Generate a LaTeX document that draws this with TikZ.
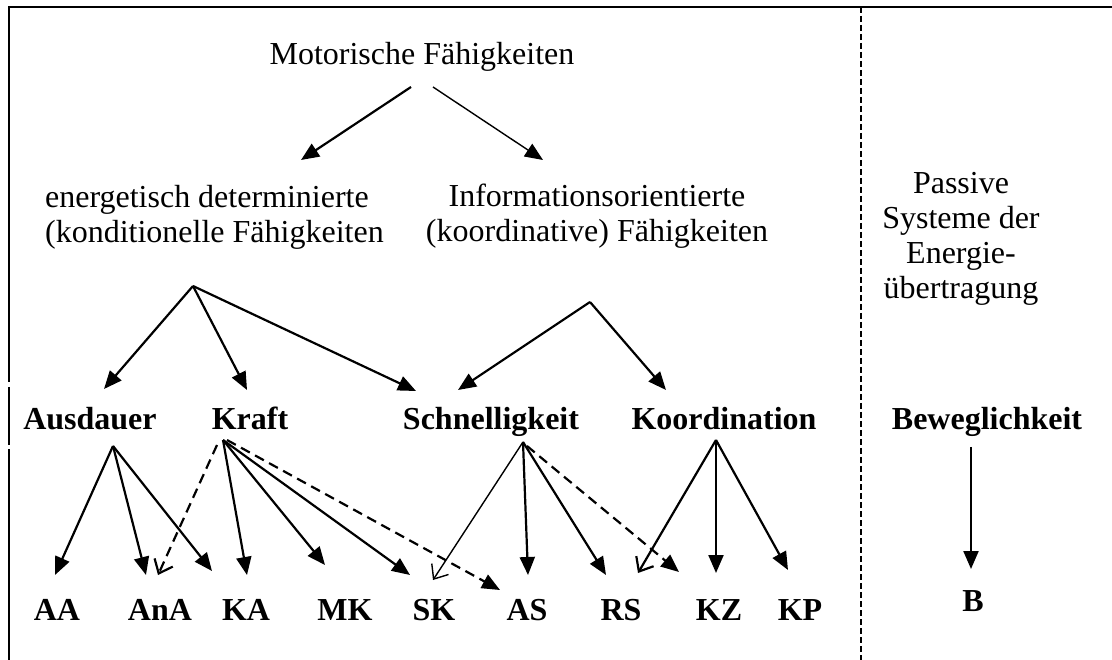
\documentclass[tikz,border=0pt]{standalone}
\usepackage{fontspec}
\setmainfont{Liberation Serif}
\usepackage{tikz}
\usetikzlibrary{arrows.meta, calc}

\begin{document}
\fontsize{32}{35}\selectfont
\begin{tikzpicture}[->,>={Triangle[length=18pt,width=15pt]},x=1pt,y=-1pt,line width=2.2pt]
	\tikzstyle{txt} = [anchor=base,inner sep=0pt]
	\tikzstyle{lbl} = [txt,font=\bfseries]
	\tikzstyle{thin} = [line width=1.4pt]
	\tikzstyle{dsh} = [dash pattern=on 10pt off 6pt]
	\tikzstyle{vee} = [-{Straight Barb[length=12pt,width=20pt]}]
	\useasboundingbox (0,0) rectangle (1112,660);
	% frame and separator
	\draw[-] (1112,7) -- (9,7) -- (9,382) (9,387) -- (9,445) (9,449) -- (9,660);
	\draw[-,dash pattern=on 6pt off 3pt] (861,7) -- (861,660);
	% texts (base = last line)
	\node[txt]				(mot)	at (422,65)		{Motorische Fähigkeiten};
	\node[txt,anchor=base west,align=left]	(ener)	at (44,243)	{energetisch determinierte\\(konditionelle Fähigkeiten};
	\node[txt,align=center]	(info)	at (597,242)	{Informationsorientierte\\(koordinative) Fähigkeiten};
	\node[txt,align=center]	(pas)	at (961,299)	{Passive\\Systeme der\\Energie-\\übertragung};
	\node[lbl]	(aus)	at (90,429)		{Ausdauer};
	\node[lbl]	(kraft)	at (250,429)	{Kraft};
	\node[lbl]	(schn)	at (491,429)	{Schnelligkeit};
	\node[lbl]	(koord)	at (724,429)	{Koordination};
	\node[lbl]	(bew)	at (987,429)	{Beweglichkeit};
	\node[lbl]	(AA)	at (57,620)		{AA};
	\node[lbl]	(AnA)	at (160,620)	{AnA};
	\node[lbl]	(KA)	at (246,620)	{KA};
	\node[lbl]	(MK)	at (345,620)	{MK};
	\node[lbl]	(SK)	at (434,620)	{SK};
	\node[lbl]	(AS)	at (527,620)	{AS};
	\node[lbl]	(RS)	at (621,620)	{RS};
	\node[lbl]	(KZ)	at (719,620)	{KZ};
	\node[lbl]	(KP)	at (800,620)	{KP};
	\node[lbl]	(B)		at (973,611)	{B};
	% arrow tips
	\coordinate (t-ener)	at (301,160);
	\coordinate (t-info)	at (543,160);
	\coordinate (t-aus)		at (104,389);
	\coordinate (t-kraft)	at (247,390);
	\coordinate (t-schn1)	at (416,391);
	\coordinate (t-schn2)	at (458,390);
	\coordinate (t-koord)	at (666,390);
	\coordinate (t-aa)		at (55,575);
	\coordinate (t-ana1)	at (146,575);
	\coordinate (t-ana2)	at (158,575);
	\coordinate (t-ka1)		at (212,571);
	\coordinate (t-ka2)		at (247,575);
	\coordinate (t-mk)		at (325,565);
	\coordinate (t-sk1)		at (410,575);
	\coordinate (t-sk2)		at (433,580);
	\coordinate (t-as1)		at (500,590);
	\coordinate (t-as2)		at (528,575);
	\coordinate (t-rs1)		at (606,575);
	\coordinate (t-rs2)		at (638,573);
	\coordinate (t-x)		at (679,572);
	\coordinate (t-kz)		at (716,573);
	\coordinate (t-kp)		at (788,570);
	\coordinate (t-b)		at (971,569);
	% connectors
	\path	($(mot.base)+(-11,22)$) edge (t-ener)
			($(mot.base)+(11,22)$) edge [thin] (t-info)
			($(ener.base west)+(149,43)$) edge (t-aus)
				edge (t-kraft)
				edge (t-schn1)
			($(info.base)+(-7,60)$) edge (t-schn2)
				edge (t-koord)
			($(aus.base)+(23,17)$) edge (t-aa)
				edge (t-ana1)
				edge (t-ka1)
			($(kraft.base)+(-27,11)$) edge (t-ka2)
				edge (t-mk)
				edge (t-sk1)
			($(kraft.base)+(-33,16)$) edge [dsh,vee] (t-ana2)
			($(kraft.base)+(-23,11)$) edge [dsh] (t-as1)
			($(schn.base)+(32,13)$) edge [thin,vee] (t-sk2)
				edge (t-as2)
				edge (t-rs1)
			($(schn.base)+(36,17)$) edge [dsh] (t-x)
			($(koord.base)+(-8,11)$) edge [vee] (t-rs2)
				edge (t-kz)
				edge (t-kp)
			($(bew.base)+(-16,18)$) edge (t-b);
\end{tikzpicture}
\end{document}
